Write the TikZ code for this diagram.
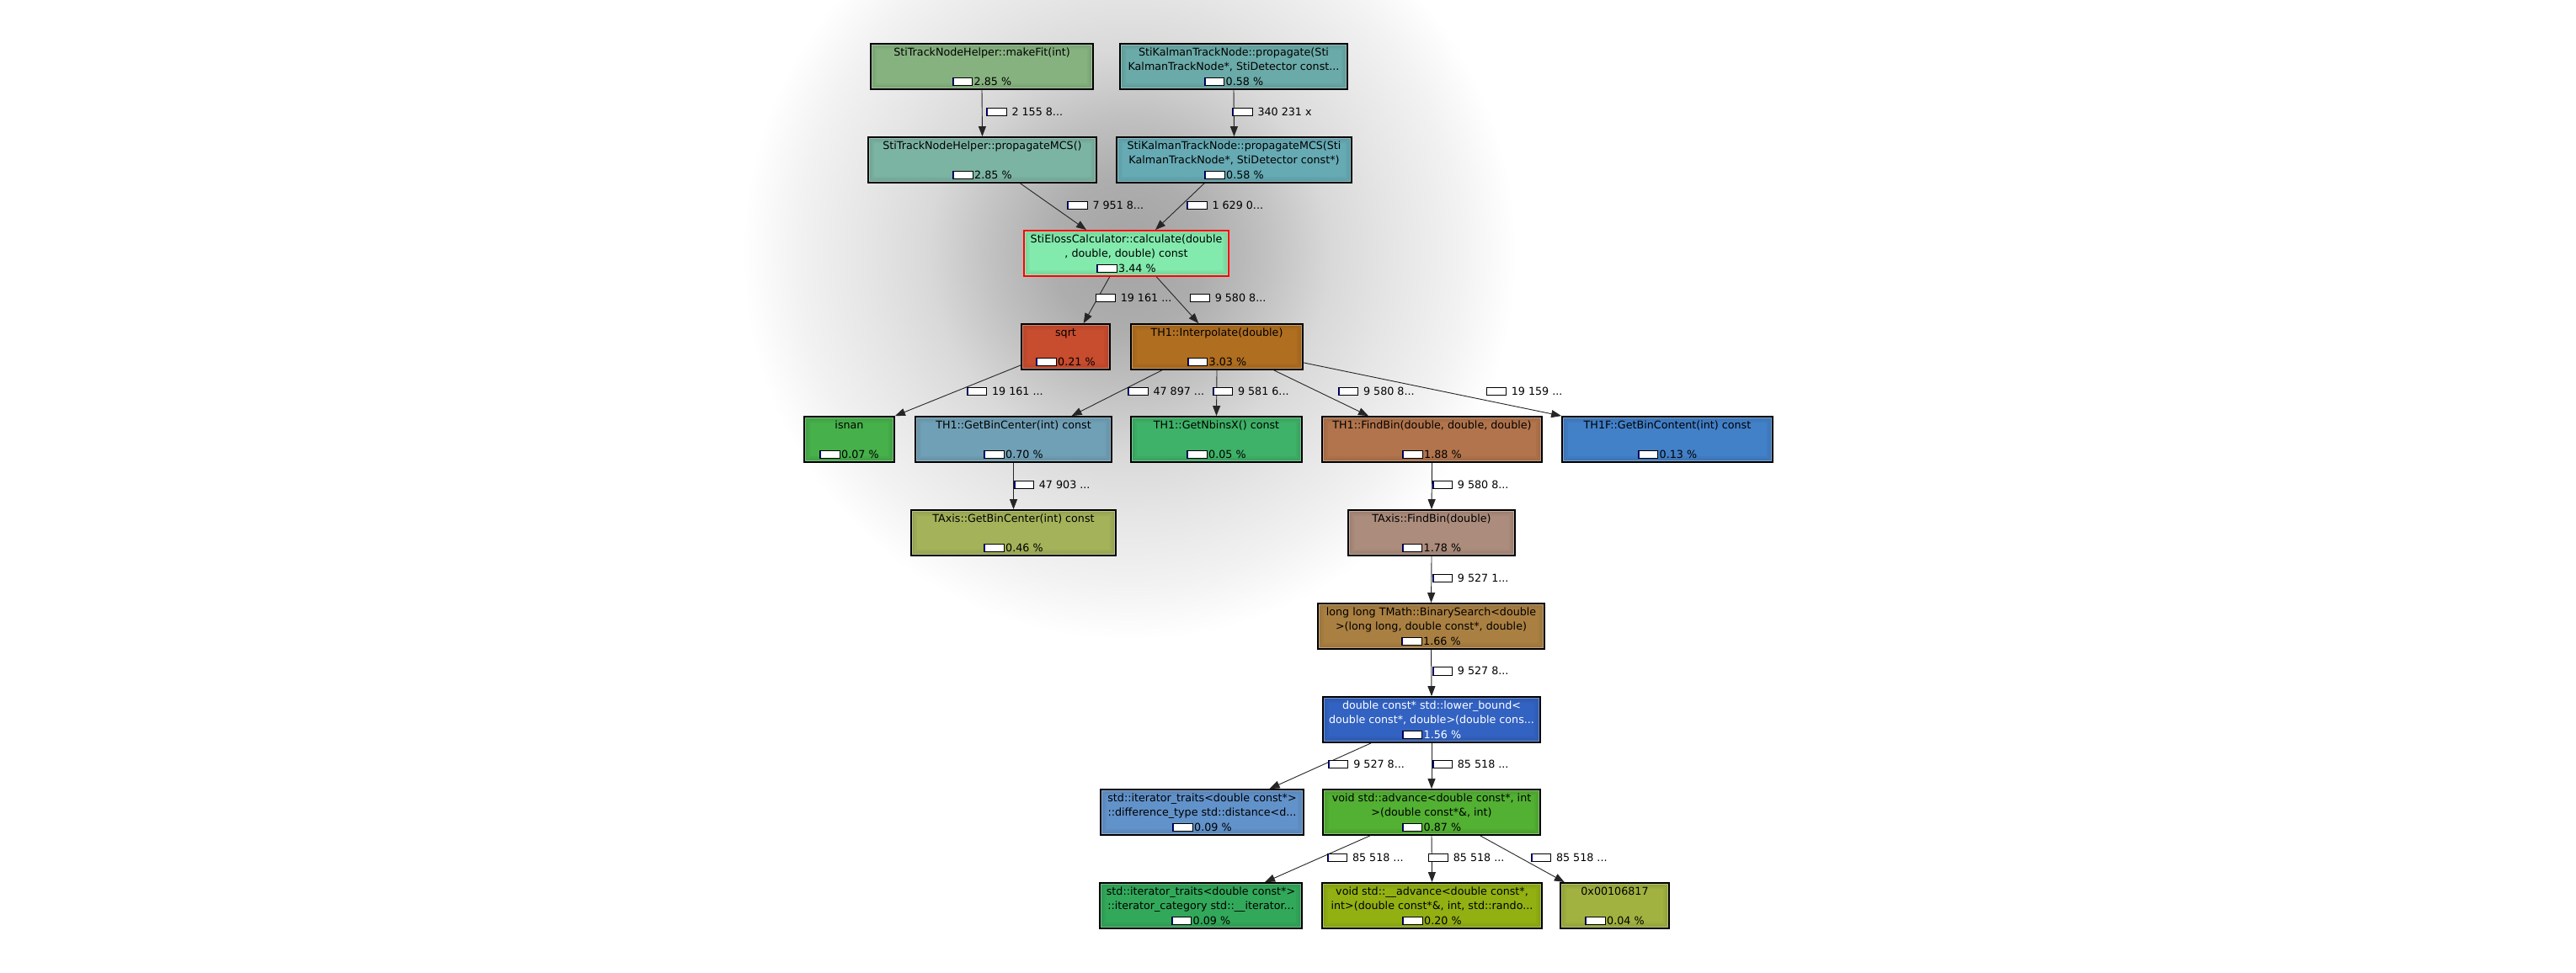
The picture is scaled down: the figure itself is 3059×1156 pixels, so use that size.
\documentclass[tikz,border=0pt]{standalone}
\usepackage{fontspec}
\setmainfont{DejaVu Sans}
\usetikzlibrary{arrows.meta}
\newcommand\nodefnt{\fontsize{12.7pt}{17.35pt}\selectfont}
\newcommand\labfnt{\fontsize{12.7pt}{15pt}\selectfont}
\newcommand\pbar{{\fboxsep=0pt\fboxrule=0.9pt\fcolorbox{black}{white}{\textcolor{blue!80!black}{\rule{1pt}{8.2pt}}\hspace{21.5pt}}}}
\newcommand\pctline[1]{\pbar\hspace{1.5pt}#1~\%\rule[-2.8pt]{0pt}{2.8pt}}
\newcommand\elabtxt[1]{\pbar\hspace{6pt}#1}
\definecolor{cMakeFit}{RGB}{134,178,128}
\definecolor{cProp}{RGB}{106,170,168}
\definecolor{cPMCS}{RGB}{124,180,163}
\definecolor{cKMCS}{RGB}{102,170,180}
\definecolor{cCalc}{RGB}{130,234,172}
\definecolor{cSqrt}{RGB}{200,76,46}
\definecolor{cInterp}{RGB}{176,110,32}
\definecolor{cIsnan}{RGB}{70,176,74}
\definecolor{cGBC}{RGB}{112,160,182}
\definecolor{cGNX}{RGB}{62,178,104}
\definecolor{cFindBin}{RGB}{178,116,76}
\definecolor{cGBCont}{RGB}{66,128,200}
\definecolor{cTAGBC}{RGB}{164,178,90}
\definecolor{cTAFB}{RGB}{172,140,124}
\definecolor{cBS}{RGB}{170,128,66}
\definecolor{cLB}{RGB}{50,98,194}
\definecolor{cDist}{RGB}{98,146,202}
\definecolor{cAdv}{RGB}{82,176,50}
\definecolor{cItCat}{RGB}{50,168,90}
\definecolor{cUAdv}{RGB}{146,176,18}
\definecolor{cHex}{RGB}{162,178,64}
\pgfdeclareradialshading{glowshade}{\pgfpoint{0bp}{0bp}}{color(0bp)=(black!36); color(5bp)=(black!32); color(9bp)=(black!24); color(13bp)=(black!15); color(17bp)=(black!10); color(21.5bp)=(black!5); color(25bp)=(white); color(50bp)=(white)}
\tikzset{
  fnode/.style={draw=black, line width=1.8pt, fill=#1, inner sep=0pt,
    minimum height=54pt, align=center, font=\nodefnt, text=black,
    path picture={
      \draw[black, opacity=0.09, line width=2pt]
        ([shift={(2pt,-2pt)}]path picture bounding box.north west) rectangle
        ([shift={(-2pt,2pt)}]path picture bounding box.south east);
      \draw[black, opacity=0.06, line width=2pt]
        ([shift={(4pt,-4pt)}]path picture bounding box.north west) rectangle
        ([shift={(-4pt,4pt)}]path picture bounding box.south east);
      \draw[black, opacity=0.03, line width=2.5pt]
        ([shift={(6.2pt,-6.2pt)}]path picture bounding box.north west) rectangle
        ([shift={(-6.2pt,6.2pt)}]path picture bounding box.south east);
      \draw[white, opacity=0.35, line width=0.8pt]
        ([shift={(1.3pt,-1.3pt)}]path picture bounding box.north west) rectangle
        ([shift={(-1.3pt,1.3pt)}]path picture bounding box.south east);
    }},
  calledge/.style={draw=black!85, line width=0.9pt, -{Triangle[length=12pt,width=9pt]}},
  elab/.style={anchor=west, inner sep=0pt, font=\labfnt}
}
\begin{document}
\begin{tikzpicture}[x=1pt,y=-1pt]
\useasboundingbox (0,0) rectangle (3059,1156);
\fill[white] (0,0) rectangle (3059,1156);
\shade[shading=glowshade] (1341,300) circle (460pt);

% nodes
\node[fnode=cMakeFit, minimum width=264pt] (n1) at (1166,79)
  {\strut StiTrackNodeHelper::makeFit(int)\\\strut\\\pctline{2.85}};
\node[fnode=cProp, minimum width=270pt] (n2) at (1465,79)
  {\strut StiKalmanTrackNode::propagate(Sti\\\strut KalmanTrackNode*, StiDetector const...\\\pctline{0.58}};
\node[fnode=cPMCS, minimum width=271pt] (n3) at (1166.5,190)
  {\strut StiTrackNodeHelper::propagateMCS()\\\strut\\\pctline{2.85}};
\node[fnode=cKMCS, minimum width=279pt] (n4) at (1465.5,190)
  {\strut StiKalmanTrackNode::propagateMCS(Sti\\\strut KalmanTrackNode*, StiDetector const*)\\\pctline{0.58}};
\node[fnode=cCalc, draw=red, minimum width=243pt] (n5) at (1337.5,301)
  {\strut StiElossCalculator::calculate(double\\\strut , double, double) const\\\pctline{3.44}};
\node[fnode=cSqrt, minimum width=105pt] (n6) at (1265.5,412)
  {\strut sqrt\\\strut\\\pctline{0.21}};
\node[fnode=cInterp, minimum width=204pt] (n7) at (1445,412)
  {\strut TH1::Interpolate(double)\\\strut\\\pctline{3.03}};
\node[fnode=cIsnan, minimum width=107pt] (n8) at (1008.5,522)
  {\strut isnan\\\strut\\\pctline{0.07}};
\node[fnode=cGBC, minimum width=233pt] (n9) at (1203.5,522)
  {\strut TH1::GetBinCenter(int) const\\\strut\\\pctline{0.70}};
\node[fnode=cGNX, minimum width=203pt] (n10) at (1444.5,522)
  {\strut TH1::GetNbinsX() const\\\strut\\\pctline{0.05}};
\node[fnode=cFindBin, minimum width=261pt] (n11) at (1700.5,522)
  {\strut TH1::FindBin(double, double, double)\\\strut\\\pctline{1.88}};
\node[fnode=cGBCont, minimum width=250pt] (n12) at (1980,522)
  {\strut TH1F::GetBinContent(int) const\\\strut\\\pctline{0.13}};
\node[fnode=cTAGBC, minimum width=243pt] (n13) at (1203.5,633)
  {\strut TAxis::GetBinCenter(int) const\\\strut\\\pctline{0.46}};
\node[fnode=cTAFB, minimum width=198pt] (n14) at (1700,633)
  {\strut TAxis::FindBin(double)\\\strut\\\pctline{1.78}};
\node[fnode=cBS, minimum width=269pt] (n15) at (1699.5,744)
  {\strut long long TMath::BinarySearch<double\\\strut >(long long, double const*, double)\\\pctline{1.66}};
\node[fnode=cLB, text=white, minimum width=258pt] (n16) at (1700,855)
  {\strut double const* std::lower\_bound<\\\strut double const*, double>(double cons...\\\pctline{1.56}};
\node[fnode=cDist, minimum width=241pt] (n17) at (1427.5,965)
  {\strut std::iterator\_traits<double const*>\\\strut ::difference\_type std::distance<d...\\\pctline{0.09}};
\node[fnode=cAdv, minimum width=258pt] (n18) at (1700,965)
  {\strut void std::advance<double const*, int\\\strut >(double const*\&, int)\\\pctline{0.87}};
\node[fnode=cItCat, minimum width=240pt] (n19) at (1426,1076)
  {\strut std::iterator\_traits<double const*>\\\strut ::iterator\_category std::\_\_iterator...\\\pctline{0.09}};
\node[fnode=cUAdv, minimum width=261pt] (n20) at (1700.5,1076)
  {\strut void std::\_\_advance<double const*,\\\strut int>(double const*\&, int, std::rando...\\\pctline{0.20}};
\node[fnode=cHex, minimum width=129pt] (n21) at (1917.5,1076)
  {\strut 0x00106817\\\strut\\\pctline{0.04}};

% connectors
\draw[calledge] (n1.south) -- (n3.north);
\draw[calledge] (n2.south) -- (n4.north);
\draw[calledge] ([xshift=45.1pt]n3.south) -- ([xshift=-47.5pt]n5.north);
\draw[calledge] ([xshift=-35.5pt]n4.south) -- ([xshift=34.5pt]n5.north);
\draw[calledge] ([xshift=-19.8pt]n5.south) -- ([xshift=21.2pt]n6.north);
\draw[calledge] ([xshift=35.8pt]n5.south) -- ([xshift=-21.7pt]n7.north);
\draw[calledge] ([yshift=6pt]n6.south west) -- (n8.north east);
\draw[calledge] ([xshift=-65.3pt]n7.south) -- ([xshift=69.1pt]n9.north);
\draw[calledge] (n7.south) -- (n10.north);
\draw[calledge] ([xshift=67.8pt]n7.south) -- ([xshift=-75.5pt]n11.north);
\draw[calledge] ([yshift=9pt]n7.south east) -- (n12.north west);
\draw[calledge] (n9.south) -- (n13.north);
\draw[calledge] (n11.south) -- (n14.north);
\draw[calledge] (n14.south) -- (n15.north);
\draw[calledge] (n15.south) -- (n16.north);
\draw[calledge] ([xshift=-72pt]n16.south) -- ([xshift=80.1pt]n17.north);
\draw[calledge] (n16.south) -- (n18.north);
\draw[calledge] ([xshift=-73.1pt]n18.south) -- ([xshift=76pt]n19.north);
\draw[calledge] (n18.south) -- (n20.north);
\draw[calledge] ([xshift=57.8pt]n18.south) -- ([xshift=-59.7pt]n21.north);

% connector labels
\node[elab] (l1) at (1171,133) {\elabtxt{2 155 8...}};
\node[elab] (l2) at (1463,133) {\elabtxt{340 231 x}};
\node[elab] (l3) at (1267,244) {\elabtxt{7 951 8...}};
\node[elab] (l4) at (1409,244) {\elabtxt{1 629 0...}};
\node[elab] (l5) at (1300.3,354) {\elabtxt{19 161 ...}};
\node[elab] (l6) at (1412.3,354) {\elabtxt{9 580 8...}};
\node[elab] (l7) at (1147.6,465) {\elabtxt{19 161 ...}};
\node[elab] (l8) at (1339,465) {\elabtxt{47 897 ...}};
\node[elab] (l9) at (1439.5,465) {\elabtxt{9 581 6...}};
\node[elab] (l10) at (1588.6,465) {\elabtxt{9 580 8...}};
\node[elab] (l11) at (1764.3,465) {\elabtxt{19 159 ...}};
\node[elab] (l12) at (1203.4,576) {\elabtxt{47 903 ...}};
\node[elab] (l13) at (1700.4,576) {\elabtxt{9 580 8...}};
\node[elab] (l14) at (1700.4,687) {\elabtxt{9 527 1...}};
\node[elab] (l15) at (1700.4,797.3) {\elabtxt{9 527 8...}};
\node[elab] (l16) at (1576.8,908) {\elabtxt{9 527 8...}};
\node[elab] (l17) at (1700.4,908) {\elabtxt{85 518 ...}};
\node[elab] (l18) at (1575.5,1019) {\elabtxt{85 518 ...}};
\node[elab] (l19) at (1695.3,1019) {\elabtxt{85 518 ...}};
\node[elab] (l20) at (1817.5,1019) {\elabtxt{85 518 ...}};
\end{tikzpicture}
\end{document}
